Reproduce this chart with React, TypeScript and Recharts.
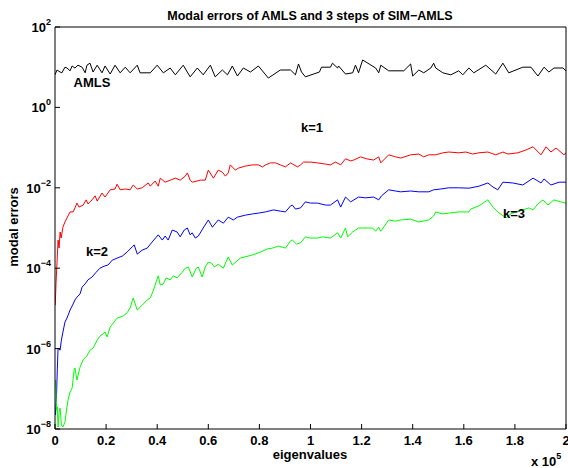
import React from 'react';
import { LineChart, Line, XAxis, YAxis } from 'recharts';

// x = eigenvalue, values stored as log10(modal error)
const amlsX = [0, 800, 2000, 2700, 3900, 4700, 5900, 6700, 7800, 9000, 10600, 11800, 12500, 13700, 14900, 16500, 18400, 19600, 21600, 23500, 25500, 27500, 29400, 32200, 33300, 37300, 40000, 42400, 45100, 47100, 50200, 52900, 55700, 58000, 60800, 62700, 65500, 67500, 69400, 71400, 73700, 76500, 79600, 83500, 88200, 92200, 94100, 95300, 96500, 98000, 103500, 104300, 107800, 108600, 110600, 111000, 113700, 116500, 117600, 118800, 120400, 125500, 126700, 127500, 130600, 136500, 139200, 140000, 142400, 144300, 147100, 148200, 149000, 151800, 154900, 158000, 159600, 162000, 163900, 168600, 172500, 175300, 177600, 183100, 186300, 189000, 191400, 193300, 195300, 198800, 200000];
const amlsLog = [0.81, 0.93, 0.88, 0.86, 1.0, 0.98, 0.91, 1.03, 0.98, 1.05, 1.0, 0.86, 1.05, 1.1, 0.88, 1.05, 0.86, 1.03, 0.83, 1.05, 0.86, 1.0, 0.86, 1.05, 0.86, 0.86, 1.05, 0.86, 0.98, 0.81, 1.05, 0.76, 0.98, 0.81, 1.05, 0.76, 0.93, 0.81, 1.03, 0.78, 0.98, 0.88, 1.03, 0.73, 0.93, 0.93, 0.81, 1.08, 0.88, 0.76, 0.88, 1.0, 1.0, 1.1, 0.98, 1.03, 0.83, 0.86, 1.05, 0.86, 1.18, 0.98, 0.86, 1.05, 0.91, 0.91, 1.08, 0.78, 0.93, 0.86, 0.98, 1.1, 0.98, 0.86, 0.81, 0.91, 0.81, 0.98, 0.86, 1.05, 0.83, 1.1, 0.86, 1.0, 1.0, 0.78, 1.0, 0.88, 0.98, 0.98, 0.91];

const k1X = [100, 400, 800, 1200, 1600, 2000, 2400, 3100, 3900, 4700, 5900, 7100, 7800, 8600, 9400, 11000, 12200, 12900, 14500, 15700, 16500, 18400, 19600, 21600, 23500, 24300, 25500, 27500, 29400, 30600, 32200, 34100, 36500, 37300, 39200, 40400, 41200, 43100, 45100, 47100, 49000, 51000, 51800, 52900, 53700, 56900, 58800, 60000, 62000, 63900, 65500, 66700, 67800, 68600, 70600, 71800, 74500, 77300, 79600, 81200, 82400, 84300, 86300, 88200, 90200, 92200, 94900, 96100, 97300, 100000, 102700, 105900, 107800, 109800, 111800, 113700, 115700, 116900, 119600, 122000, 124700, 126700, 127500, 130600, 133300, 135300, 139200, 142400, 144300, 146300, 149000, 151800, 154100, 158000, 160800, 163500, 165900, 169400, 172500, 175300, 177300, 181200, 184300, 187100, 190200, 192200, 194100, 196100, 199200, 200000];
const k1Log = [-4.92, -4.37, -3.85, -3.3, -3.5, -3.1, -3.25, -2.98, -2.85, -2.75, -2.6, -2.6, -2.5, -2.38, -2.48, -2.43, -2.3, -2.4, -2.3, -2.2, -2.33, -2.13, -2.23, -2.05, -2.03, -1.91, -2.05, -2.03, -2.05, -1.93, -2.03, -2.0, -1.88, -1.96, -1.83, -1.96, -1.76, -1.86, -1.81, -1.76, -1.81, -1.71, -1.63, -1.81, -1.86, -1.81, -1.81, -1.56, -1.76, -1.56, -1.61, -1.71, -1.63, -1.43, -1.56, -1.51, -1.46, -1.43, -1.43, -1.48, -1.43, -1.38, -1.38, -1.43, -1.48, -1.38, -1.48, -1.43, -1.36, -1.36, -1.38, -1.41, -1.43, -1.36, -1.43, -1.28, -1.33, -1.31, -1.23, -1.28, -1.31, -1.23, -1.38, -1.18, -1.23, -1.26, -1.18, -1.16, -1.23, -1.18, -1.18, -1.13, -1.11, -1.13, -1.11, -1.16, -1.13, -1.11, -1.18, -1.11, -1.16, -1.13, -1.06, -0.98, -1.18, -0.98, -1.11, -1.01, -1.18, -1.13];

const k2X = [200, 600, 900, 1200, 2000, 2500, 3100, 3900, 4700, 5900, 7100, 7800, 8600, 9800, 10600, 11800, 12900, 14500, 16100, 17600, 19200, 20800, 22400, 24300, 26300, 28200, 30200, 31000, 32200, 34100, 36100, 38000, 40400, 42000, 43100, 44300, 45900, 47800, 49000, 50600, 51800, 52900, 53700, 54900, 56100, 58000, 60000, 61600, 63900, 65900, 67800, 69800, 71400, 74500, 77300, 79600, 82400, 85500, 88200, 90200, 92200, 92900, 94100, 96100, 98000, 100000, 102700, 105900, 107800, 110600, 111800, 113700, 115700, 118800, 121600, 124700, 126700, 127800, 130600, 133300, 135300, 139200, 142400, 146300, 148200, 151000, 154100, 158000, 162000, 165900, 169400, 171400, 173300, 175300, 179200, 183100, 187100, 189000, 190200, 191400, 194100, 197300, 200000];
const k2Log = [-7.65, -7.15, -6.53, -5.99, -6.04, -5.79, -5.59, -5.34, -5.24, -5.04, -4.89, -4.79, -4.72, -4.64, -4.47, -4.39, -4.29, -4.22, -4.1, -4.0, -3.95, -3.92, -3.8, -3.75, -3.7, -3.6, -3.47, -3.42, -3.65, -3.55, -3.5, -3.35, -3.17, -3.3, -3.2, -3.3, -3.05, -3.1, -3.22, -3.05, -3.0, -3.17, -3.12, -3.25, -3.2, -3.0, -2.8, -2.98, -2.8, -2.88, -2.73, -2.8, -2.73, -2.68, -2.65, -2.63, -2.6, -2.55, -2.58, -2.6, -2.45, -2.43, -2.53, -2.5, -2.35, -2.38, -2.38, -2.43, -2.43, -2.3, -2.48, -2.23, -2.35, -2.23, -2.25, -2.23, -2.3, -2.2, -2.05, -2.08, -2.1, -2.08, -2.1, -2.1, -2.05, -2.03, -2.0, -2.0, -2.01, -1.96, -1.88, -1.98, -2.05, -1.86, -1.88, -1.93, -1.76, -1.83, -1.88, -1.78, -1.93, -1.86, -1.86];

const k3X = [200, 600, 900, 1200, 1600, 2000, 2500, 3100, 3900, 4500, 5100, 5900, 6700, 7500, 7800, 8600, 9800, 11000, 12500, 13700, 14900, 16500, 17600, 19600, 20400, 21600, 23100, 24300, 26700, 28200, 29400, 30600, 32200, 34100, 36100, 37300, 38400, 39600, 40400, 41200, 42400, 43500, 45100, 46300, 47800, 49800, 51000, 52200, 53700, 55300, 56100, 57600, 58800, 60000, 61200, 62400, 63900, 65900, 67800, 69400, 72500, 77300, 80400, 83100, 85100, 87500, 90200, 92200, 92900, 94500, 96100, 98000, 100000, 102700, 104700, 107800, 110600, 111800, 113700, 114500, 116500, 118800, 121600, 124300, 125500, 126700, 127500, 130600, 133300, 135300, 139200, 142400, 146300, 148200, 149000, 151800, 154100, 158000, 162000, 162700, 165900, 169400, 171400, 173300, 176500, 178400, 180400, 183100, 185500, 187100, 189000, 191000, 192900, 195300, 198000, 200000];
const k3Log = [-6.78, -7.53, -7.45, -7.95, -7.58, -7.48, -7.9, -7.95, -7.83, -7.53, -7.28, -7.08, -6.98, -6.53, -6.48, -6.78, -6.46, -6.28, -6.18, -6.04, -5.99, -5.79, -5.69, -5.59, -5.71, -5.46, -5.34, -5.24, -5.19, -5.11, -4.99, -4.74, -5.04, -4.92, -4.79, -4.74, -4.57, -4.34, -4.19, -4.42, -4.39, -4.24, -4.29, -4.19, -4.24, -4.1, -4.0, -3.97, -4.22, -4.0, -3.97, -4.22, -3.97, -3.85, -3.87, -3.97, -3.9, -4.0, -3.72, -3.92, -3.75, -3.67, -3.6, -3.52, -3.5, -3.45, -3.5, -3.32, -3.3, -3.4, -3.37, -3.22, -3.25, -3.25, -3.22, -3.25, -3.12, -3.25, -3.0, -3.22, -3.1, -3.0, -3.0, -3.0, -3.08, -2.98, -3.08, -2.8, -2.83, -2.8, -2.78, -2.85, -2.8, -2.7, -2.6, -2.65, -2.63, -2.6, -2.6, -2.53, -2.45, -2.3, -2.48, -2.6, -2.75, -2.65, -2.6, -2.55, -2.5, -2.55, -2.4, -2.3, -2.43, -2.3, -2.35, -2.38];

const xTicks = [0, 20000, 40000, 60000, 80000, 100000, 120000, 140000, 160000, 180000, 200000];
const xTickLabels = ['0', '0.2', '0.4', '0.6', '0.8', '1', '1.2', '1.4', '1.6', '1.8', '2'];
const yTicks = [1e-8, 1e-6, 1e-4, 1e-2, 1, 100];
const yTickExponents = ['\u22128', '\u22126', '\u22124', '\u22122', '0', '2'];

const toRows = (xs: number[], logs: number[]) => xs.map((x, i) => ({ x, y: Math.pow(10, logs[i]) }));

const amlsData = toRows(amlsX, amlsLog);
const k1Data = toRows(k1X, k1Log);
const k2Data = toRows(k2X, k2Log);
const k3Data = toRows(k3X, k3Log);

const FONT = '"Liberation Sans", Arial, Helvetica, sans-serif';

const XTick = (props: any) => {
  const i = xTicks.indexOf(props.payload.value);
  return (
    <text x={props.x} y={445} textAnchor="middle" fontFamily={FONT} fontSize={13} fontWeight="bold" fill="#000">
      {xTickLabels[i]}
    </text>
  );
};

const YTick = (props: any) => {
  const i = yTicks.indexOf(props.payload.value);
  return (
    <text x={51} y={props.y + 5} textAnchor="end" fontFamily={FONT} fontWeight="bold" fill="#000">
      <tspan fontSize={13}>10</tspan>
      <tspan fontSize={9} dy={-7}>{yTickExponents[i]}</tspan>
    </text>
  );
};

const axisStyle = { stroke: '#000', strokeWidth: 1 };

export default function App() {
  return (
    <div style={{ position: 'absolute', left: 0, top: 0, width: 568, height: 468, background: '#fff' }}>
      <LineChart width={568} height={468} margin={{ top: 26, right: 1, bottom: 0, left: 0 }}>
        <XAxis
          xAxisId="b"
          type="number"
          dataKey="x"
          domain={[0, 200000]}
          ticks={xTicks}
          interval={0}
          allowDataOverflow
          height={39}
          tickSize={-5}
          axisLine={axisStyle}
          tickLine={axisStyle}
          tick={<XTick />}
        />
        <XAxis
          xAxisId="t"
          orientation="top"
          type="number"
          dataKey="x"
          domain={[0, 200000]}
          ticks={xTicks}
          interval={0}
          allowDataOverflow
          height={1}
          tickSize={-5}
          axisLine={axisStyle}
          tickLine={axisStyle}
          tick={false}
        />
        <YAxis
          yAxisId="l"
          type="number"
          scale="log"
          domain={[1e-8, 100]}
          ticks={yTicks}
          interval={0}
          allowDataOverflow
          width={55}
          tickSize={-5}
          axisLine={axisStyle}
          tickLine={axisStyle}
          tick={<YTick />}
        />
        <YAxis
          yAxisId="r"
          orientation="right"
          type="number"
          scale="log"
          domain={[1e-8, 100]}
          ticks={yTicks}
          interval={0}
          allowDataOverflow
          width={1}
          tickSize={-5}
          axisLine={axisStyle}
          tickLine={axisStyle}
          tick={false}
        />
        <Line xAxisId="b" yAxisId="l" data={amlsData} dataKey="y" type="linear" stroke="#000000" strokeWidth={1} dot={false} isAnimationActive={false} />
        <Line xAxisId="b" yAxisId="l" data={k1Data} dataKey="y" type="linear" stroke="#ff0000" strokeWidth={1} dot={false} isAnimationActive={false} />
        <Line xAxisId="b" yAxisId="l" data={k2Data} dataKey="y" type="linear" stroke="#0000ff" strokeWidth={1} dot={false} isAnimationActive={false} />
        <Line xAxisId="b" yAxisId="l" data={k3Data} dataKey="y" type="linear" stroke="#00ff00" strokeWidth={1} dot={false} isAnimationActive={false} />
      </LineChart>
      <svg width={568} height={468} style={{ position: 'absolute', left: 0, top: 0, pointerEvents: 'none' }}>
        <g fontFamily={FONT} fontWeight="bold" fill="#000">
          <text x={310} y={20} textAnchor="middle" fontSize={12.5}>Modal errors of AMLS and 3 steps of SIM{'\u2212'}AMLS</text>
          <text x={310} y={459} textAnchor="middle" fontSize={13}>eigenvalues</text>
          <text transform="translate(18,227) rotate(-90)" textAnchor="middle" fontSize={13}>modal errors</text>
          <text x={531} y={466} fontSize={13}>
            x 10<tspan fontSize={9} dy={-7}>5</tspan>
          </text>
          <text x={92} y={87} textAnchor="middle" fontSize={13}>AMLS</text>
          <text x={312} y={132} textAnchor="middle" fontSize={13}>k=1</text>
          <text x={97} y={256} textAnchor="middle" fontSize={13}>k=2</text>
          <text x={514} y={218} textAnchor="middle" fontSize={13}>k=3</text>
        </g>
      </svg>
    </div>
  );
}
